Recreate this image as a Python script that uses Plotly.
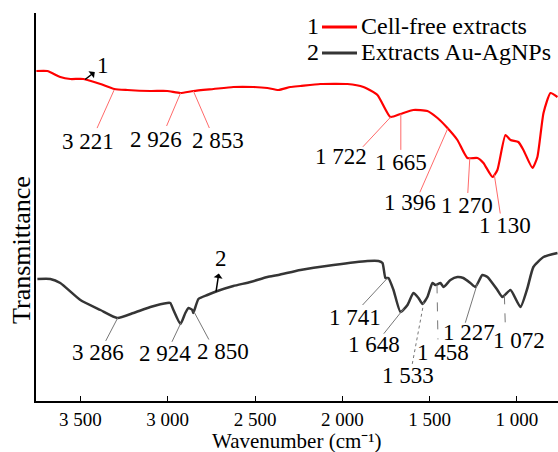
import numpy as np
import plotly.graph_objects as go

# ---------------- data ----------------
wn_red = [3752, 3689, 3615, 3557, 3483, 3385, 3305, 3231, 3099, 3002, 2927, 2853,
          2738, 2624, 2509, 2429, 2366, 2297, 2240, 2126, 1971, 1879, 1799, 1725,
          1667, 1593, 1513, 1455, 1398, 1341, 1284, 1226, 1192, 1140, 1112, 1066,
          1037, 992, 963, 911, 883, 848, 808, 768]
t_red = [330, 330, 324, 322, 322, 317, 312, 311, 310, 310, 308, 310,
         312, 314, 314, 313, 311, 314, 315, 317, 317, 314, 306, 284,
         287, 291, 290, 283, 273, 261, 243, 243, 238, 224, 231, 266,
         261, 259, 251, 233, 244, 288, 308, 304]

wn_black = [3746, 3672, 3615, 3500, 3385, 3288, 3196, 3099, 3002, 2985, 2967, 2927,
            2899, 2881, 2859, 2853, 2824, 2773, 2715, 2624, 2526, 2429, 2366, 2240,
            2051, 1856, 1793, 1770, 1753, 1736, 1707, 1667, 1627, 1593, 1564, 1541,
            1513, 1484, 1467, 1438, 1421, 1381, 1341, 1307, 1267, 1238, 1198, 1169,
            1112, 1083, 1037, 980, 940, 906, 848, 768]
t_black = [122, 122, 118, 101, 91, 83, 88, 94, 98, 98, 91, 77,
           88, 93, 91, 88, 102, 106, 110, 115, 119, 124, 126, 131,
           136, 140, 140, 138, 123, 123, 111, 89, 96, 108, 103, 97,
           104, 118, 116, 118, 114, 121, 124, 123, 118, 114, 126, 124,
           111, 104, 111, 94, 113, 134, 144, 148]

red_peaks = [3221, 2926, 2853, 1722, 1665, 1396, 1270, 1130]
black_peaks = [3286, 2924, 2850, 1741, 1648, 1533, 1458, 1227, 1072]

x_ticks = [3500, 3000, 2500, 2000, 1500, 1000]
x_ticklabels = ["3 500", "3 000", "2 500", "2 000", "1 500", "1 000"]
series_names = ["Cell-free extracts", "Extracts Au-AgNPs"]
series_numbers = ["1", "2"]
curve_tag_wn = [3473, 2723]

# ---------------- layout helpers (pixel offsets) ----------------
# (line start dx, line end dx, line end dy, text dx, text dy); dy positive = downward
red_label_layout = [
    (-15, -32, 38, -41, 51),
    (0, -14, 33, -25, 47),
    (0, 16, 37, 25, 49),
    (0, -28, 30, -50, 40),
    (0, 0, 36, 0, 49),
    (0, -28, 64, -38, 74),
    (0, -2, 35, -3, 47),
    (0, 6, 39, 11, 51),
]
black_label_layout = [
    (0, -12, 23, -20, 35),
    (0, -9, 19, -16, 31),
    (0, 15, 28, 29, 40),
    (0, -25, 27, -33, 39),
    (0, -20, 25, -30, 36),
    (0, -12, 64, -16, 73),
    (0, 1, 55, 6, 68),
    (0, -12, 39, -8, 49),
    (0, 1, 33, 15, 45),
]
black_dash = [None, None, None, None, None, "dot", "dash", None, "dash"]

FONT = "Liberation Serif"
RED = "#ff0000"
DARK = "#353535"
PLOT_L, PLOT_W, PLOT_B, PLOT_H = 36, 522, 401, 388


def px_x(p):
    return (p - PLOT_L) / PLOT_W


def px_y(p):
    return (PLOT_B - p) / PLOT_H


fig = go.Figure()
fig.add_trace(go.Scatter(x=wn_red, y=t_red, mode="lines", name=series_names[0],
                         line=dict(color=RED, width=2.2, shape="spline", smoothing=0.5),
                         showlegend=False))
fig.add_trace(go.Scatter(x=wn_black, y=t_black, mode="lines", name=series_names[1],
                         line=dict(color=DARK, width=2.5, shape="spline", smoothing=0.5),
                         showlegend=False))


def interp(wn_list, t_list, w):
    xs = np.array(wn_list[::-1], dtype=float)
    ys = np.array(t_list[::-1], dtype=float)
    return float(np.interp(w, xs, ys))


shapes = []
annotations = []


def add_labels(peaks, layout, wn_list, t_list, color, dashes=None):
    for i, (p, lay) in enumerate(zip(peaks, layout)):
        sdx, edx, edy, tdx, tdy = lay
        yv = interp(wn_list, t_list, p)
        dash = dashes[i] if dashes else None
        shapes.append(dict(type="line", xref="x", yref="y",
                           xsizemode="pixel", ysizemode="pixel",
                           xanchor=p, yanchor=yv,
                           x0=sdx, y0=0, x1=edx, y1=-edy,
                           line=dict(color=color, width=1,
                                     dash=dash if dash else "solid")))
        annotations.append(dict(x=p, y=yv, xref="x", yref="y",
                                text=f"{p // 1000} {p % 1000:03d}",
                                showarrow=False, xshift=tdx, yshift=-tdy,
                                font=dict(family=FONT, size=23, color="black")))


add_labels(red_peaks, red_label_layout, wn_red, t_red, "#ff6a6a")
add_labels(black_peaks, black_label_layout, wn_black, t_black, "#777777", black_dash)

# curve tags "1" and "2" with small arrows pointing from the curve to the number
tag_text = [(18, 14), (5, 33)]
for w, num, (tx, ty), (wl, tl) in zip(curve_tag_wn, series_numbers, tag_text,
                                      [(wn_red, t_red), (wn_black, t_black)]):
    yv = interp(wl, tl, w)
    annotations.append(dict(x=w, y=yv, xref="x", yref="y", text=num,
                            showarrow=True, arrowside="start", arrowhead=2,
                            arrowsize=1, arrowwidth=1.5, arrowcolor="black",
                            ax=tx, ay=-ty, standoff=0, startstandoff=1,
                            font=dict(family=FONT, size=23, color="black")))

# manual legend: number, line sample, name
legend_rows = [26, 52]
legend_colors = [RED, DARK]
for num, name, col, ypx in zip(series_numbers, series_names, legend_colors, legend_rows):
    annotations.append(dict(xref="paper", yref="paper", x=px_x(313), y=px_y(ypx),
                            text=num, showarrow=False, xanchor="center", yanchor="middle",
                            font=dict(family=FONT, size=24, color="black")))
    shapes.append(dict(type="line", xref="paper", yref="paper",
                       x0=px_x(322), x1=px_x(357), y0=px_y(ypx + 1), y1=px_y(ypx + 1),
                       line=dict(color=col, width=3)))
    annotations.append(dict(xref="paper", yref="paper", x=px_x(359), y=px_y(ypx),
                            text=name, showarrow=False, xanchor="left", yanchor="middle",
                            font=dict(family=FONT, size=24, color="black")))

# axis titles
annotations.append(dict(xref="paper", yref="paper", x=px_x(21), y=px_y(250),
                        text="Transmittance", textangle=-90, showarrow=False,
                        xanchor="center", yanchor="middle",
                        font=dict(family=FONT, size=26, color="black")))
annotations.append(dict(xref="paper", yref="paper", x=0.5, y=0, yshift=-52.5,
                        text="Wavenumber (cm\u207b\u00b9)", showarrow=False,
                        xanchor="center", yanchor="bottom", borderpad=0,
                        font=dict(family=FONT, size=21, color="black")))

fig.update_layout(
    width=558, height=452,
    margin=dict(l=PLOT_L, r=0, t=13, b=51),
    paper_bgcolor="white", plot_bgcolor="white",
    showlegend=False,
    shapes=shapes,
    annotations=annotations,
    xaxis=dict(range=[3754, 765], tickvals=x_ticks, ticktext=x_ticklabels,
               ticks="inside", ticklen=5, tickwidth=1.2, tickcolor="black",
               showline=True, linecolor="black", linewidth=1.5,
               showgrid=False, zeroline=False,
               tickfont=dict(family=FONT, size=19, color="black")),
    yaxis=dict(range=[0, 388], showticklabels=False, ticks="",
               showline=True, linecolor="black", linewidth=1.5,
               showgrid=False, zeroline=False),
)

fig.write_html("out.html")
